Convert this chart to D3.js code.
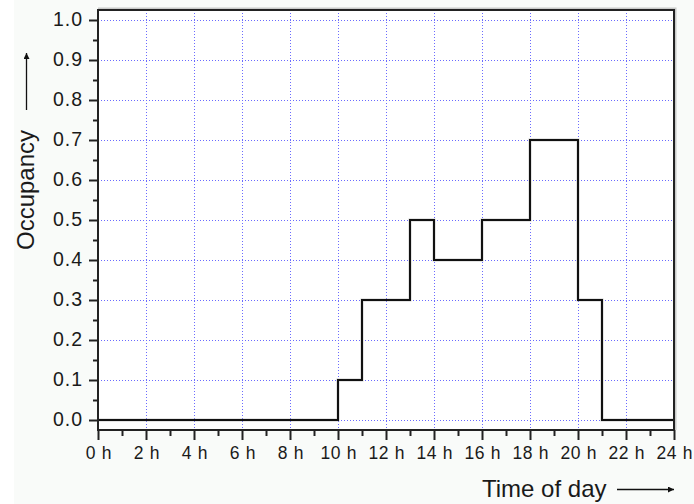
<!DOCTYPE html>
<html><head><meta charset="utf-8">
<script src="https://cdn.jsdelivr.net/npm/d3@7"></script>
<style>
html,body{margin:0;padding:0;background:#fff;}
svg{display:block;}
text{font-family:"Liberation Sans",Arial,Helvetica,sans-serif;fill:#1a1a1a;}
</style></head>
<body>
<svg id="chart" width="694" height="504"></svg>
<script>
// Data
const hours = [0, 10, 11, 13, 14, 16, 18, 20, 21, 24];
const occupancy = [0, 0.1, 0.3, 0.5, 0.4, 0.5, 0.7, 0.3, 0, 0];
const xTickValues = [0, 2, 4, 6, 8, 10, 12, 14, 16, 18, 20, 22, 24];
const xTickLabels = xTickValues.map(h => h + " h");
const yTickValues = [0, 0.1, 0.2, 0.3, 0.4, 0.5, 0.6, 0.7, 0.8, 0.9, 1.0];
const xTitle = "Time of day";
const yTitle = "Occupancy";

(function () {
const svg = d3.select("#chart");
const W = 694, H = 504;
const pL = 98, pR = 674, pT = 10, pB = 430;

svg.append("rect").attr("x", 14).attr("y", 0).attr("width", W - 14).attr("height", H).attr("fill", "#f9fbf9");
svg.append("rect").attr("x", pL).attr("y", pT).attr("width", pR - pL).attr("height", pB - pT).attr("fill", "#ffffff");

const x = d3.scaleLinear().domain([0, 24]).range([pL, pR]);
const y = d3.scaleLinear().domain([-0.025, 1.025]).range([pB, pT]);

// grid
const grid = svg.append("g").attr("stroke", "#6b6bff").attr("stroke-width", 1).attr("stroke-dasharray", "1,2").attr("fill", "none");
xTickValues.filter(v => v > 0 && v < 24).forEach(v => {
  grid.append("line").attr("x1", Math.round(x(v)) + 0.5).attr("x2", Math.round(x(v)) + 0.5).attr("y1", pT).attr("y2", pB);
});
yTickValues.forEach(v => {
  grid.append("line").attr("x1", pL).attr("x2", pR).attr("y1", Math.round(y(v)) + 0.5).attr("y2", Math.round(y(v)) + 0.5);
});

// step line
const pts = hours.map((h, i) => [h, occupancy[i]]);
const line = d3.line().x(d => x(d[0])).y(d => y(d[1])).curve(d3.curveStepAfter);
svg.append("path").datum(pts).attr("d", line).attr("fill", "none").attr("stroke", "#9a9a9a").attr("stroke-width", 3).attr("opacity", 0.5);
svg.append("path").datum(pts).attr("d", line).attr("fill", "none").attr("stroke", "#111").attr("stroke-width", 2);

// frame (shadow)
svg.append("path").attr("d", `M${pL},${pT - 1}H${pR + 1}V${pB}`).attr("fill", "none").attr("stroke", "#9a9a9a").attr("stroke-width", 3).attr("opacity", 0.5);
svg.append("rect").attr("x", pL).attr("y", pT).attr("width", pR - pL).attr("height", pB - pT)
  .attr("fill", "none").attr("stroke", "#222").attr("stroke-width", 2);

// x axis
const xAxis = d3.axisBottom(x).tickValues(xTickValues).tickFormat((d, i) => xTickLabels[i]).tickSize(10).tickPadding(7);
const gx = svg.append("g").attr("transform", `translate(0,${pB})`).call(xAxis);
gx.select(".domain").remove();
gx.selectAll(".tick line").attr("stroke", "#222").attr("stroke-width", 2);
gx.selectAll(".tick text").attr("font-size", 17.5).attr("fill", "#1a1a1a").attr("letter-spacing", 0.7).attr("dx", 0.35);
const xMinor = d3.axisBottom(x).tickValues(d3.range(1, 24, 2)).tickFormat("").tickSize(6);
const gxm = svg.append("g").attr("transform", `translate(0,${pB})`).call(xMinor);
gxm.select(".domain").remove();
gxm.selectAll(".tick line").attr("stroke", "#222").attr("stroke-width", 2);

// y axis
const yAxis = d3.axisLeft(y).tickValues(yTickValues).tickFormat(d3.format(".1f")).tickSize(9).tickPadding(6);
const gy = svg.append("g").attr("transform", `translate(${pL},0)`).call(yAxis);
gy.select(".domain").remove();
gy.selectAll(".tick line").attr("stroke", "#222").attr("stroke-width", 2);
gy.selectAll(".tick text").attr("font-size", 19.5).attr("fill", "#1a1a1a").attr("dy", "0.3em").attr("letter-spacing", 1);
const yMinor = d3.axisLeft(y).tickValues(d3.range(0.05, 1.0, 0.1)).tickFormat("").tickSize(5);
const gym = svg.append("g").attr("transform", `translate(${pL},0)`).call(yMinor);
gym.select(".domain").remove();
gym.selectAll(".tick line").attr("stroke", "#222").attr("stroke-width", 2);

// arrow marker
const defs = svg.append("defs");
defs.append("marker").attr("id", "arr").attr("viewBox", "0 0 10 10").attr("refX", 10).attr("refY", 5)
  .attr("markerWidth", 11).attr("markerHeight", 6).attr("markerUnits", "userSpaceOnUse").attr("orient", "auto")
  .append("path").attr("d", "M0,0L10,5L0,10Z").attr("fill", "#111");

// x title
svg.append("text").attr("x", 482).attr("y", 497).attr("font-size", 24).text(xTitle);
svg.append("line").attr("x1", 617).attr("x2", 674).attr("y1", 489.5).attr("y2", 489.5)
  .attr("stroke", "#111").attr("stroke-width", 1.3).attr("marker-end", "url(#arr)");

// y title
svg.append("text").attr("transform", "translate(34,250) rotate(-90)").attr("font-size", 24).text(yTitle);
svg.append("line").attr("x1", 26.5).attr("x2", 26.5).attr("y1", 110).attr("y2", 53)
  .attr("stroke", "#111").attr("stroke-width", 1.3).attr("marker-end", "url(#arr)");
})();
</script>
</body></html>
